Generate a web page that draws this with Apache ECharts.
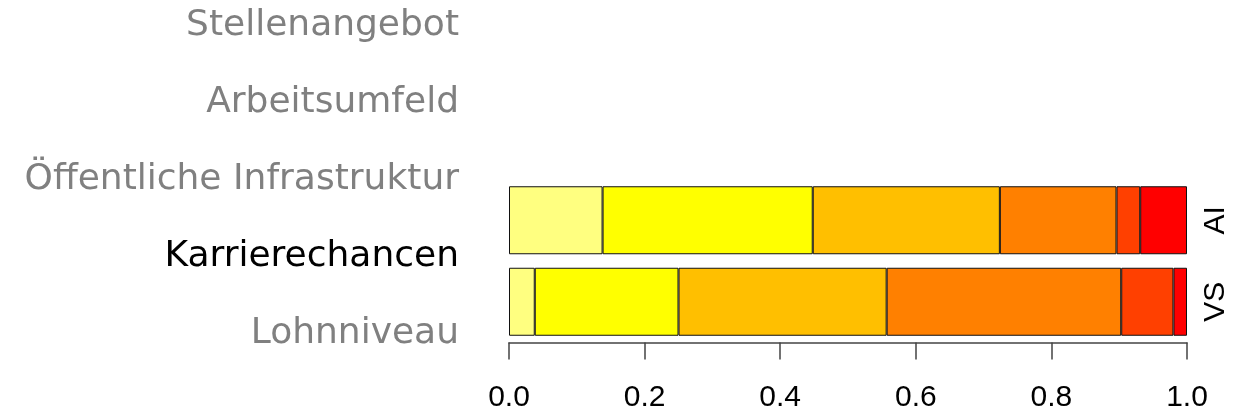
<!DOCTYPE html>
<html>
<head>
<meta charset="utf-8">
<script src="https://cdn.jsdelivr.net/npm/echarts@6/dist/echarts.min.js"></script>
<style>
  html, body { margin: 0; padding: 0; background: #fff; }
  #chart { width: 1238px; height: 414px; }
</style>
</head>
<body>
<div id="chart"></div>
<script>
// Themen (linke Spalte), eines davon hervorgehoben
var topics = ['Stellenangebot', 'Arbeitsumfeld', 'Öffentliche Infrastruktur', 'Karrierechancen', 'Lohnniveau'];
var activeTopic = 'Karrierechancen';

// Gruppen der Balken (unten -> oben)
var groups = ['VS', 'AI'];

// Anteile je Stufe, Reihenfolge wie groups
var level1 = [0.038, 0.138];
var level2 = [0.212, 0.310];
var level3 = [0.307, 0.276];
var level4 = [0.346, 0.172];
var level5 = [0.077, 0.035];
var level6 = [0.020, 0.069];

var xTicks = [0, 0.2, 0.4, 0.6, 0.8, 1.0];

var levels = [level1, level2, level3, level4, level5, level6];
var colors = ['#FFFF80', '#FFFF00', '#FFBF00', '#FF8000', '#FF4000', '#FF0000'];

var myChart = echarts.init(document.getElementById('chart'));

var series = levels.map(function(vals, i) {
  return {
    name: 'Stufe ' + (i + 1),
    type: 'bar',
    stack: 'all',
    xAxisIndex: 0,
    yAxisIndex: 0,
    barWidth: 68,
    itemStyle: { color: colors[i], borderColor: '#111', borderWidth: 1 },
    data: vals
  };
});

var option = {
  animation: false,
  grid: [
    { left: 509, right: 51, top: 179.5, height: 163 },
    { left: 462, width: 10, top: 26, height: 308 }
  ],
  xAxis: [{
    gridIndex: 0,
    type: 'value',
    min: xTicks[0],
    max: xTicks[xTicks.length - 1],
    interval: 0.2,
    axisLine: { show: true, lineStyle: { color: '#444', width: 1.5 } },
    axisTick: { show: true, length: 17, lineStyle: { color: '#444', width: 1.5 } },
    splitLine: { show: false },
    axisLabel: {
      margin: 40,
      color: '#000',
      fontFamily: 'Liberation Sans',
      fontSize: 30,
      formatter: function(v) { return v.toFixed(1); }
    }
  }, {
    gridIndex: 1,
    type: 'value',
    show: false
  }],
  yAxis: [{
    gridIndex: 0,
    type: 'category',
    data: groups,
    axisLine: { show: false },
    axisTick: { show: false },
    axisLabel: { show: false }
  }, {
    gridIndex: 0,
    type: 'category',
    position: 'right',
    data: groups,
    axisLine: { show: false },
    axisTick: { show: false },
    axisLabel: {
      rotate: 90,
      margin: 14,
      color: '#000',
      fontFamily: 'Liberation Sans',
      fontSize: 30
    }
  }, {
    gridIndex: 1,
    type: 'category',
    inverse: true,
    boundaryGap: false,
    data: topics,
    axisLine: { show: false },
    axisTick: { show: false },
    axisLabel: {
      interval: 0,
      margin: 3,
      fontFamily: 'DejaVu Sans',
      fontSize: 36,
      color: function(value) { return value === activeTopic ? '#000' : '#808080'; }
    }
  }],
  series: series
};

myChart.setOption(option);
</script>
</body>
</html>
